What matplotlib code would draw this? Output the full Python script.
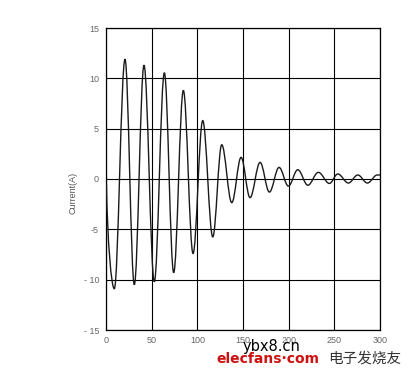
import matplotlib
matplotlib.use("Agg")
import matplotlib.pyplot as plt
from matplotlib.path import Path
from matplotlib.patches import PathPatch

# Extrema of the current waveform (time, current in A)
extrema_t = [0.5, 9.1, 20.8, 31.0, 41.6, 52.9, 63.9, 74.1, 84.7, 95.3, 105.9,
             116.9, 126.7, 137.7, 147.9, 157.7, 168.7, 178.9, 189.5, 199.7,
             210.0, 221.0, 232.5, 244.6, 253.8, 265.4, 275.7, 286.2, 297.0, 300.0]
extrema_v = [-0.5, -10.9, 11.9, -10.5, 11.3, -10.2, 10.55, -9.3, 8.8, -7.4, 5.8,
             -5.75, 3.4, -2.35, 2.15, -1.85, 1.65, -1.3, 1.15, -0.7,
             0.92, -0.62, 0.66, -0.44, 0.5, -0.4, 0.4, -0.4, 0.4, 0.4]

x_ticks = [0, 50, 100, 150, 200, 250, 300]
y_ticks = [-15, -10, -5, 0, 5, 10, 15]
x_tick_labels = ["0", "50", "100", "150", "200", "250", "300"]
y_tick_labels = ["- 15", "- 10", "-5", "0", "5", "10", "15"]
y_label = "Current(A)"

fig = plt.figure(figsize=(4.2, 3.79), dpi=100)
ax = fig.add_axes([106/420, 1-330/379, (380-106)/420, (330-28)/379])

# Smooth half-wave segments between extrema (cubic Bezier in data coordinates)
k = 0.3642
verts = [(extrema_t[0], extrema_v[0])]
codes = [Path.MOVETO]
n = len(extrema_t)
for i in range(n - 1):
    t0, v0 = extrema_t[i], extrema_v[i]
    t1, v1 = extrema_t[i + 1], extrema_v[i + 1]
    dt = t1 - t0
    if i == 0:
        c1 = (t0 + 0.12 * dt, v0 + 0.55 * (v1 - v0))
    else:
        c1 = (t0 + k * dt, v0)
    if i == n - 2:
        c2 = (t1 - 0.3 * dt, v1)
    else:
        c2 = (t1 - k * dt, v1)
    verts += [c1, c2, (t1, v1)]
    codes += [Path.CURVE4, Path.CURVE4, Path.CURVE4]

ax.add_patch(PathPatch(Path(verts, codes), fill=False, edgecolor="#1a1a1a",
                       linewidth=1.0, zorder=3))

ax.set_xlim(0, 300)
ax.set_ylim(-15, 15)
ax.set_xticks(x_ticks)
ax.set_xticklabels(x_tick_labels)
ax.set_yticks(y_ticks)
ax.set_yticklabels(y_tick_labels)
ax.grid(True, color="black", linewidth=0.8)
ax.set_axisbelow(True)
ax.tick_params(length=0, pad=5, labelsize=6.5, colors="#666666")
ax.tick_params(axis="x", pad=4)
for lab in ax.get_xticklabels() + ax.get_yticklabels():
    lab.set_family("Liberation Sans")
for sp in ax.spines.values():
    sp.set_color("black")
    sp.set_linewidth(0.9)

fig.text(73/420, 1-193/379, y_label, rotation=90, ha="center", va="center",
         fontsize=6.5, color="#555555", family="Liberation Sans")

# watermark texts
fig.text(272/420, 1-346/379, "ybx8.cn", ha="center", va="center",
         fontsize=10.5, color="black", family="DejaVu Sans")
fig.text(268/420, 1-359/379, "elecfans·com", ha="center", va="center",
         fontsize=10, fontweight="bold", color="#cc1111", family="DejaVu Sans")
fig.text(365/420, 1-359/379, "电子发烧友", ha="center", va="center",
         fontsize=10.5, color="#333333", family=["Noto Sans CJK SC", "DejaVu Sans"])

fig.savefig("out.png", dpi=100)
